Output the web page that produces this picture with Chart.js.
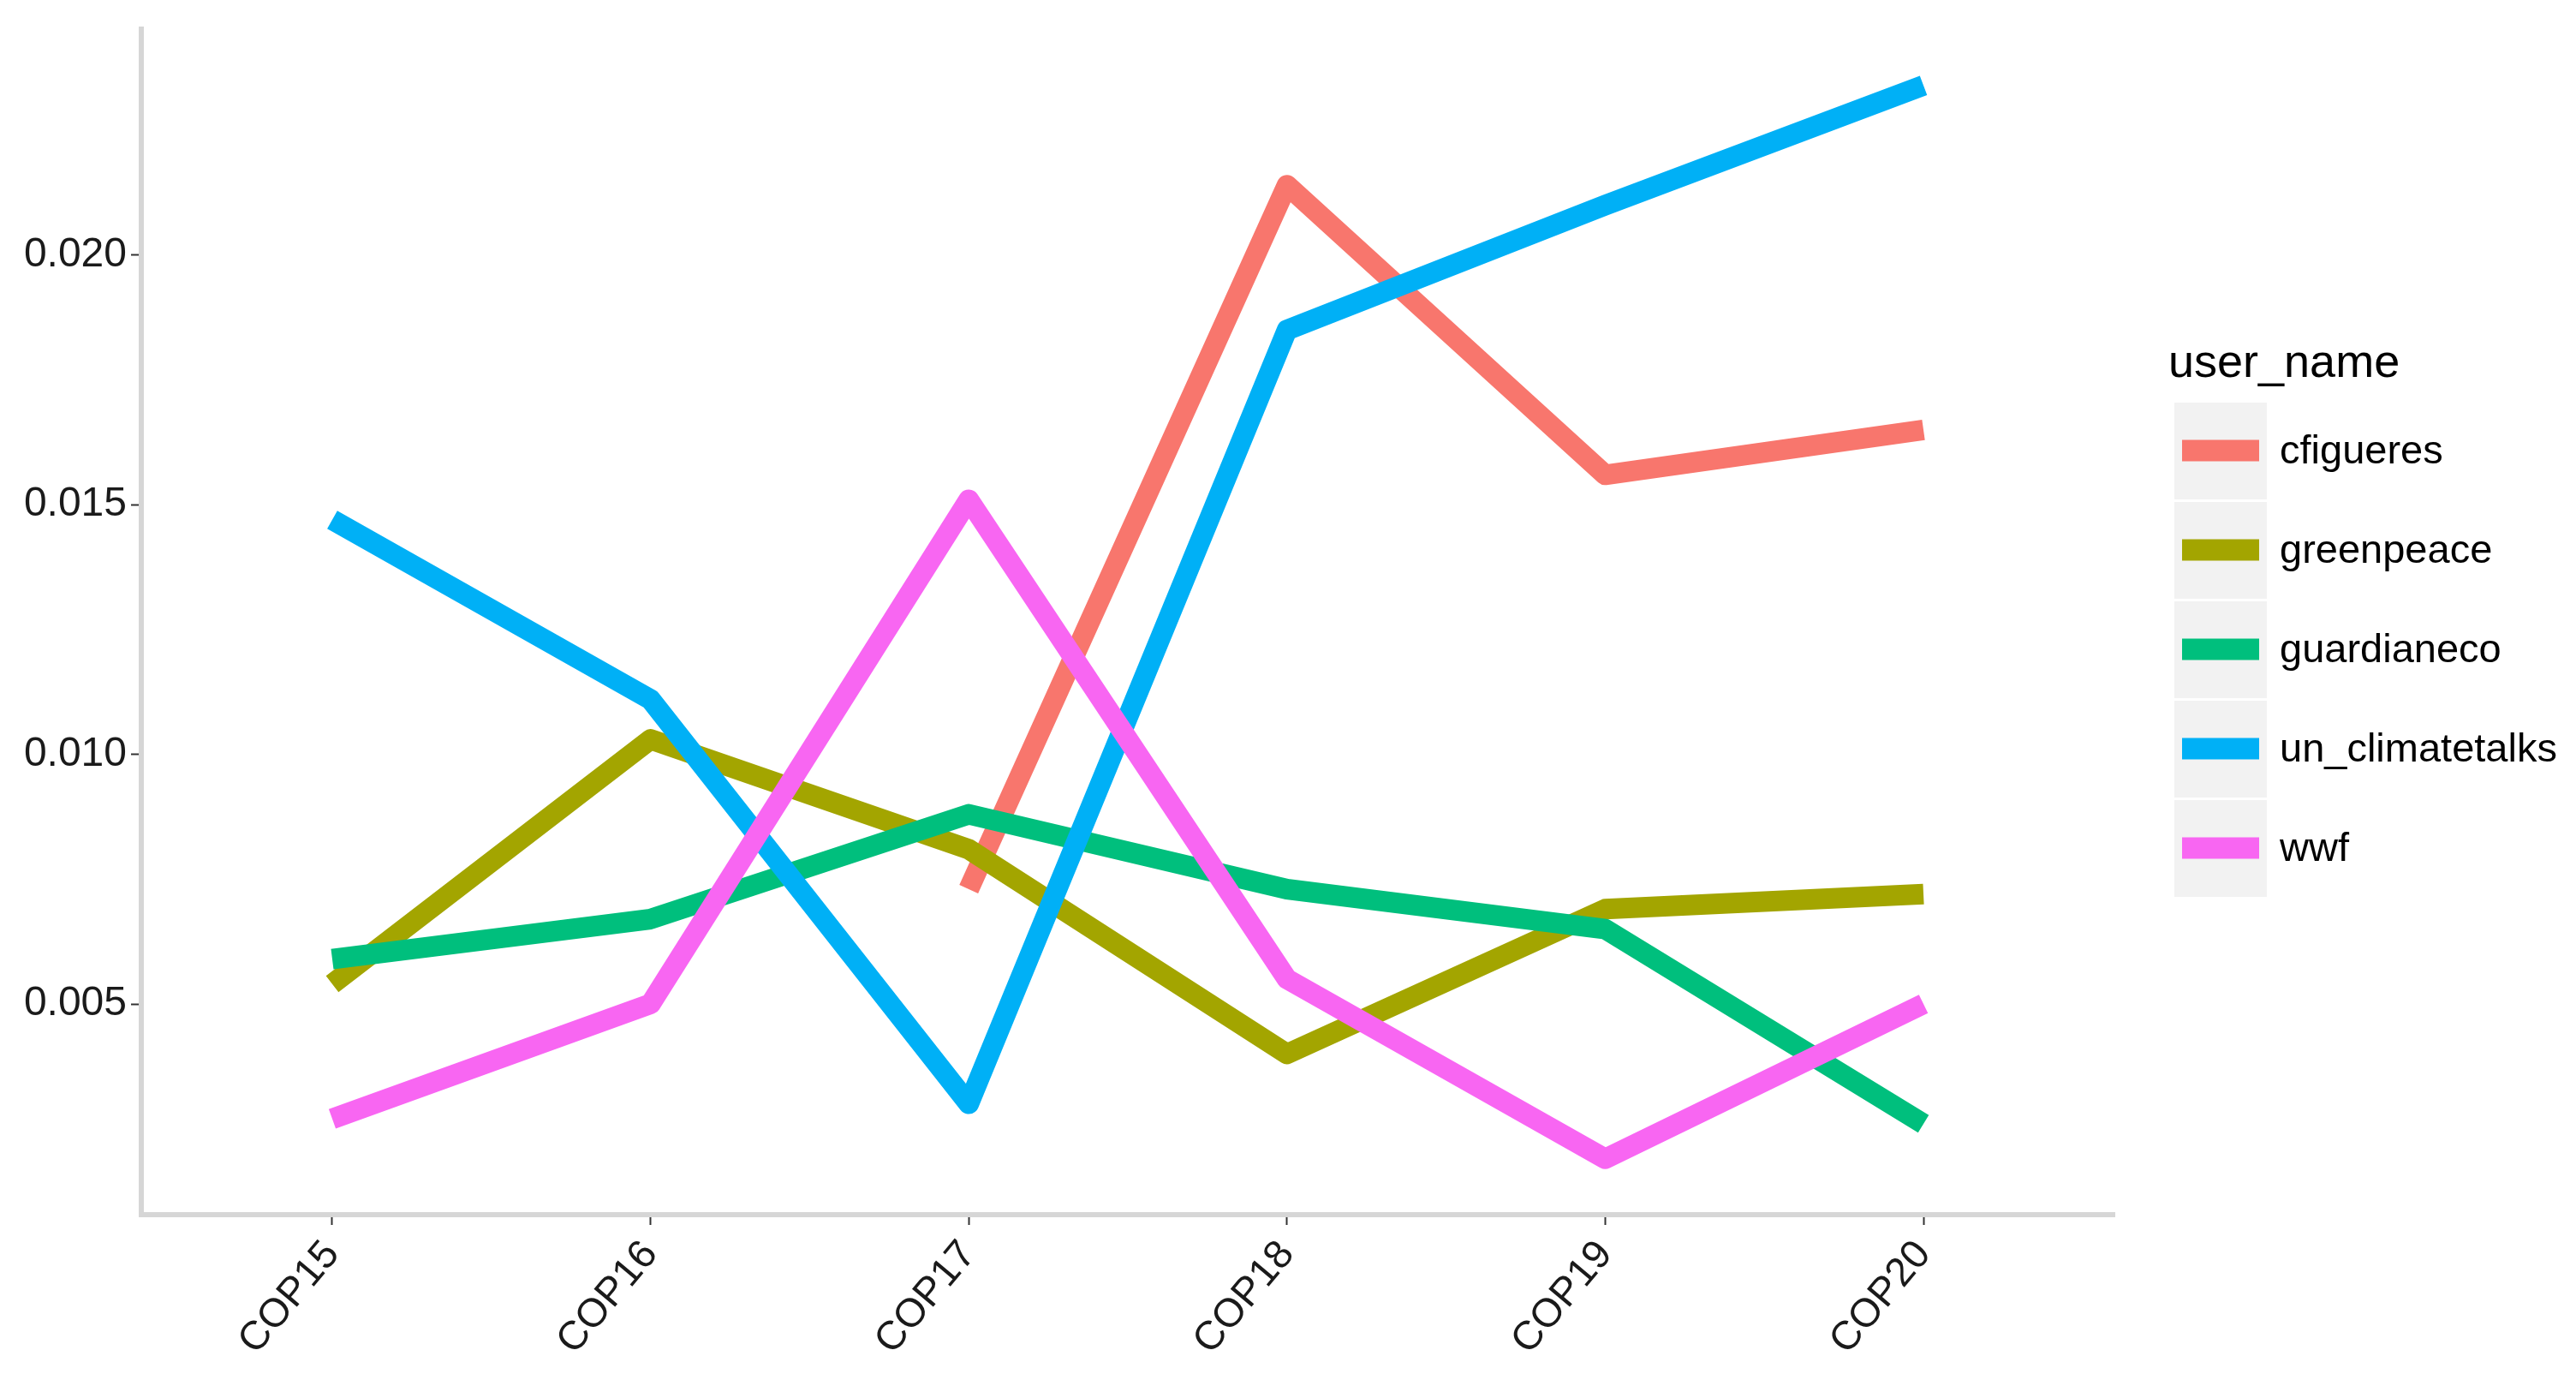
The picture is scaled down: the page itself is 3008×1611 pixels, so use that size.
<!DOCTYPE html>
<html lang="en">
<head>
    <meta charset="UTF-8">
    <title>user_name by COP</title>
    <script src="https://cdn.jsdelivr.net/npm/chart.js"></script>
    <style>
        body {
            margin: 0;
            background-color: #ffffff;
        }
        .chart-box {
            width: 3008px;
            height: 1611px;
        }
    </style>
</head>
<body>
    <div class="chart-box">
        <canvas id="lineChart"></canvas>
    </div>

    <script>
        // values
        const copLabels = ['COP15', 'COP16', 'COP17', 'COP18', 'COP19', 'COP20'];
        const userNames = ['cfigueres', 'greenpeace', 'guardianeco', 'un_climatetalks', 'wwf'];
        const cfigueres = [null, null, 0.0073, 0.0214, 0.0156, 0.0165];
        const greenpeace = [0.0054, 0.0103, 0.0081, 0.0040, 0.0069, 0.0072];
        const guardianeco = [0.0059, 0.0067, 0.0088, 0.0073, 0.0065, 0.0026];
        const unClimatetalks = [0.0147, 0.0111, 0.0030, 0.0185, 0.0210, 0.0234];
        const wwf = [0.0027, 0.0050, 0.0151, 0.0055, 0.0019, 0.0050];
        const yTickValues = [0.005, 0.010, 0.015, 0.020];

        const seriesValues = [cfigueres, greenpeace, guardianeco, unClimatetalks, wwf];
        const lineColors = ['#F8766D', '#A3A500', '#00BF7D', '#00B0F6', '#F866F2'];

        Chart.defaults.font.family = '"Liberation Sans", Arial, sans-serif';

        // ggplot style legend with grey key boxes
        const ggLegend = {
            id: 'ggLegend',
            afterDraw(chart) {
                const ctx = chart.ctx;
                const x0 = 2539;
                const top = 470;
                const rowH = 116;
                ctx.save();
                ctx.fillStyle = '#000000';
                ctx.font = '54px "Liberation Sans", Arial, sans-serif';
                ctx.textAlign = 'left';
                ctx.textBaseline = 'alphabetic';
                ctx.fillText('user_name', 2532, 440);

                chart.data.datasets.forEach((ds, i) => {
                    const y = top + i * rowH;
                    ctx.fillStyle = '#F2F2F2';
                    ctx.fillRect(x0, y, 108, rowH - 3);
                    ctx.strokeStyle = ds.borderColor;
                    ctx.lineWidth = 25;
                    ctx.lineCap = 'butt';
                    ctx.beginPath();
                    ctx.moveTo(x0 + 9, y + 56);
                    ctx.lineTo(x0 + 99, y + 56);
                    ctx.stroke();
                    ctx.fillStyle = '#000000';
                    ctx.font = '47px "Liberation Sans", Arial, sans-serif';
                    ctx.textBaseline = 'middle';
                    ctx.fillText(ds.label, 2662, y + 58);
                });
                ctx.restore();
            }
        };

        const ctxLine = document.getElementById('lineChart').getContext('2d');
        new Chart(ctxLine, {
            type: 'line',
            data: {
                datasets: userNames.map((name, i) => {
                    return {
                        label: name,
                        data: seriesValues[i].map((v, j) => ({ x: j, y: v })),
                        borderColor: lineColors[i],
                        backgroundColor: lineColors[i],
                        borderWidth: 24,
                        borderJoinStyle: 'round',
                        borderCapStyle: 'butt',
                        pointRadius: 0,
                        tension: 0,
                        fill: false,
                        order: userNames.length - i
                    };
                })
            },
            options: {
                responsive: true,
                maintainAspectRatio: false,
                devicePixelRatio: 1,
                animation: false,
                layout: {
                    padding: { top: 17, right: 539, left: 0, bottom: 0 }
                },
                plugins: {
                    legend: { display: false },
                    tooltip: { enabled: false }
                },
                scales: {
                    x: {
                        type: 'linear',
                        min: -0.6,
                        max: 5.6,
                        afterBuildTicks: scale => {
                            scale.ticks = copLabels.map((c, i) => ({ value: i }));
                        },
                        afterFit: scale => { scale.height = 193; },
                        ticks: {
                            autoSkip: false,
                            minRotation: 50,
                            maxRotation: 50,
                            padding: 8,
                            color: '#1a1a1a',
                            font: { size: 47 },
                            callback: value => copLabels[value]
                        },
                        grid: {
                            display: true,
                            drawOnChartArea: false,
                            drawTicks: true,
                            tickLength: 12,
                            tickWidth: 2,
                            tickColor: '#333333',
                            color: '#333333'
                        },
                        border: { display: true, color: '#D6D6D6', width: 6 }
                    },
                    y: {
                        min: 0.00078,
                        max: 0.02453,
                        afterBuildTicks: scale => {
                            scale.ticks = yTickValues.map(v => ({ value: v }));
                        },
                        afterFit: scale => { scale.width = 165; },
                        ticks: {
                            padding: 5,
                            color: '#1a1a1a',
                            font: { size: 48 },
                            callback: value => value.toFixed(3)
                        },
                        grid: {
                            display: true,
                            drawOnChartArea: false,
                            drawTicks: true,
                            tickLength: 12,
                            tickWidth: 2,
                            tickColor: '#333333',
                            color: '#333333'
                        },
                        border: { display: true, color: '#D6D6D6', width: 6 }
                    }
                }
            },
            plugins: [ggLegend]
        });
    </script>
</body>
</html>
